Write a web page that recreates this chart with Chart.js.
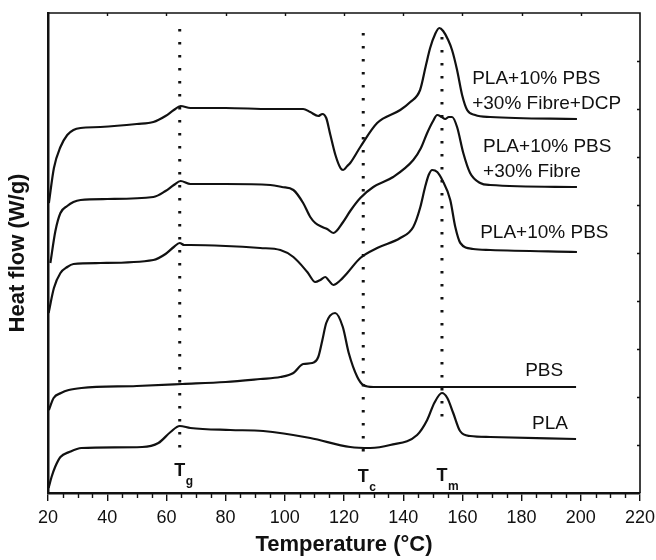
<!DOCTYPE html>
<html>
<head>
<meta charset="utf-8">
<script src="https://cdn.jsdelivr.net/npm/chart.js@4.4.1/dist/chart.umd.min.js"></script>
<style>
  html, body { margin: 0; padding: 0; background: #fff; }
  #dsc { display: block; }
</style>
</head>
<body>
<canvas id="dsc" width="656" height="560"></canvas>
<script>
// DSC heating curves, heat flow in arbitrary (offset) units
const dcpTemp = [20.3, 22.0, 24.2, 26.5, 28.6, 31, 37.7, 50, 55.6, 59.7, 62.5, 64.8, 68.1, 80, 95.1, 106.2, 108.6, 111.3, 112.7, 114, 115.4, 117.1, 118.8, 119.7, 121.1, 122.1, 125.5, 131.2, 139, 142.4, 145.7, 147.7, 149.1, 150.8, 152.2, 153.5, 155.2, 156.5, 158.2, 159.9, 161.6, 164.3, 169.4, 198.7];
const dcpFlow = [290, 325, 346, 358, 363, 365, 366, 369, 371, 377, 383, 387, 385, 385, 384, 384, 381, 377, 379, 375, 358, 338, 325, 323, 327, 330, 346, 370, 383, 391, 403, 428, 445, 459, 465, 462, 453, 443, 423, 398, 383, 378, 376, 374];

const fibreTemp = [20.8, 22.5, 24.2, 26.5, 28.6, 31, 40, 55.6, 59.7, 62.5, 64.8, 68.1, 80, 95.1, 99, 102.9, 106.2, 108.6, 110.3, 112.7, 114.3, 116.4, 119.7, 122.1, 125.5, 129.9, 136.6, 143.4, 146, 148.1, 150.1, 151.5, 153, 154.2, 155.4, 156.5, 158.2, 160.3, 162.6, 166, 169.4, 198.7];
const fibreFlow = [230, 262, 280, 287, 291, 293, 294, 296, 302, 308, 312, 309, 309, 308, 306, 303, 290, 276, 270, 266, 264, 260, 271, 282, 295, 306, 316, 333, 345, 360, 372, 378, 376, 374, 376, 376, 366, 340, 320, 310, 308, 306];

const blendTemp = [20.2, 22.0, 24.2, 26.5, 28.6, 37.7, 55.6, 59.7, 62.5, 64.5, 66, 68.1, 80, 91.7, 98.5, 102.9, 107.6, 110.3, 112, 113.7, 115, 116.4, 118.5, 121.1, 125.5, 131.2, 139, 143.4, 145.7, 147.4, 148.6, 149.8, 151.5, 153.2, 155.9, 157.6, 159.3, 163.6, 169.4, 198.7];
const blendFlow = [180, 205, 220, 226, 229, 230, 233, 239, 246, 250, 248, 248, 247, 245, 243, 236, 221, 211, 213, 216, 212, 208, 212, 220, 235, 245, 255, 266, 285, 306, 318, 323, 321, 313, 293, 266, 250, 244, 243, 241];

const pbsTemp = [20.3, 21.9, 24.4, 27, 31.3, 50, 65.4, 80, 91.7, 98.5, 102.9, 106.2, 109.3, 111.3, 112.7, 114, 117, 119.6, 121.6, 124.5, 126.5, 129.9, 150, 198.4];
const pbsFlow = [83, 95, 100, 103, 105, 107, 109, 111, 114, 116, 120, 129, 130, 136, 153, 170, 180, 166, 140, 116, 108, 106, 106, 106];

const plaTemp = [20.2, 21.2, 22.4, 24.2, 27.2, 31.3, 51.8, 57.3, 61.4, 64.5, 68.1, 81.6, 92.7, 108.6, 122.1, 128.9, 135.6, 144.7, 148.1, 150.5, 153.1, 154.9, 156.9, 159.2, 162.6, 169.4, 198.4];
const plaFlow = [5, 16, 26, 36, 41, 45, 46, 50, 61, 67, 65, 63, 62, 55, 46, 45, 48, 58, 73, 90, 100, 95, 80, 62, 57, 56, 54];

// Tg, Tc, Tm marker lines
const markerNames = ['g', 'c', 'm'];
const markerTemps = [64.5, 126.5, 153.1];
const markerTop = [464, 460, 456];
const markerBottom = [35, 33, 68];

const xTicks = [20, 40, 60, 80, 100, 120, 140, 160, 180, 200, 220];

const FONT = '"Liberation Sans", Arial, Helvetica, sans-serif';
const INK = '#111';

function pts(xs, ys) {
  return xs.map((x, i) => ({ x: x, y: ys[i] }));
}

function curve(label, xs, ys) {
  return {
    label: label,
    data: pts(xs, ys),
    borderColor: INK,
    borderWidth: 2.2,
    pointRadius: 0,
    fill: false,
    cubicInterpolationMode: 'monotone'
  };
}

const datasets = [
  curve('PLA+10% PBS +30% Fibre+DCP', dcpTemp, dcpFlow),
  curve('PLA+10% PBS +30% Fibre', fibreTemp, fibreFlow),
  curve('PLA+10% PBS', blendTemp, blendFlow),
  curve('PBS', pbsTemp, pbsFlow),
  curve('PLA', plaTemp, plaFlow)
];

markerTemps.forEach((t, i) => {
  datasets.push({
    label: 'T' + markerNames[i],
    data: [{ x: t, y: markerTop[i] }, { x: t, y: markerBottom[i] }],
    borderColor: INK,
    borderWidth: 3,
    borderDash: [2.5, 10.5],
    borderCapStyle: 'butt',
    pointRadius: 0,
    fill: false
  });
});

// curve names, anchored in data units (left edge, middle of first line)
const curveLabels = [
  { lines: ['PLA+10% PBS', '+30% Fibre+DCP'], x: 163.3, y: 414 },
  { lines: ['PLA+10% PBS', '+30% Fibre'], x: 167, y: 346 },
  { lines: ['PLA+10% PBS'], x: 166, y: 260 },
  { lines: ['PBS'], x: 181.2, y: 122 },
  { lines: ['PLA'], x: 183.5, y: 69 }
];

const decor = {
  id: 'decor',
  afterDraw(chart) {
    const { ctx, chartArea: a, scales: { x, y } } = chart;
    ctx.save();
    ctx.strokeStyle = INK;

    // top and right frame
    ctx.lineWidth = 1.6;
    ctx.beginPath();
    ctx.moveTo(a.left, a.top);
    ctx.lineTo(a.right, a.top);
    ctx.lineTo(a.right, a.bottom);
    ctx.stroke();

    // minor ticks on the bottom axis
    ctx.lineWidth = 1.4;
    ctx.beginPath();
    for (let t = 25; t < 220; t += 5) {
      if (t % 20 === 0) continue;
      const px = Math.round(x.getPixelForValue(t)) + 0.5;
      ctx.moveTo(px, a.bottom);
      ctx.lineTo(px, a.bottom + 5);
    }
    // small ticks on the top axis
    for (let t = 40; t < 220; t += 20) {
      const px = Math.round(x.getPixelForValue(t)) + 0.5;
      ctx.moveTo(px, a.top);
      ctx.lineTo(px, a.top + 3);
    }
    // small ticks on the right axis
    for (let v = 48; v < 480; v += 48) {
      const py = Math.round(y.getPixelForValue(v)) + 0.5;
      ctx.moveTo(a.right, py);
      ctx.lineTo(a.right - 3, py);
    }
    ctx.stroke();

    // curve names
    ctx.fillStyle = INK;
    ctx.font = '19px ' + FONT;
    ctx.textAlign = 'left';
    ctx.textBaseline = 'middle';
    curveLabels.forEach(l => {
      const px = x.getPixelForValue(l.x);
      const py = y.getPixelForValue(l.y);
      l.lines.forEach((s, k) => ctx.fillText(s, px, py + k * 25));
    });

    // T_g, T_c, T_m
    const tOffsets = [0, 6, 5];
    markerTemps.forEach((t, i) => {
      const px = x.getPixelForValue(t);
      const py = a.bottom - 22 + tOffsets[i];
      ctx.font = 'bold 18px ' + FONT;
      ctx.textAlign = 'center';
      ctx.textBaseline = 'middle';
      ctx.fillText('T', px, py);
      ctx.font = 'bold 12px ' + FONT;
      ctx.textAlign = 'left';
      ctx.fillText(markerNames[i], px + 6, py + 11);
    });
    ctx.restore();
  }
};

new Chart(document.getElementById('dsc'), {
  type: 'line',
  data: { datasets: datasets },
  options: {
    responsive: false,
    animation: false,
    devicePixelRatio: 1,
    layout: { padding: { top: 13, right: 16, left: 0, bottom: 0 } },
    plugins: {
      legend: { display: false },
      tooltip: { enabled: false }
    },
    scales: {
      x: {
        type: 'linear',
        min: 20,
        max: 220,
        afterBuildTicks: s => { s.ticks = xTicks.map(v => ({ value: v })); },
        afterFit: s => {
          s.height = 67;
          s.paddingLeft = 0;
          s.paddingRight = 0;
        },
        ticks: {
          color: INK,
          padding: 6,
          maxRotation: 0,
          font: { family: FONT, size: 18 }
        },
        grid: {
          drawOnChartArea: false,
          drawTicks: true,
          tickLength: 8,
          color: INK,
          lineWidth: 1.4
        },
        border: { display: true, color: INK, width: 2.5 },
        title: {
          display: true,
          text: 'Temperature (°C)',
          color: INK,
          padding: { top: 3, bottom: 2 },
          font: { family: FONT, size: 22, weight: 'bold' }
        }
      },
      y: {
        type: 'linear',
        min: 0,
        max: 480,
        ticks: { display: false },
        grid: { display: false },
        border: { display: true, color: INK, width: 2.5 },
        afterFit: s => { s.width = 48; },
        title: {
          display: true,
          text: 'Heat flow (W/g)',
          color: INK,
          padding: { top: 5, bottom: 0 },
          font: { family: FONT, size: 22, weight: 'bold' }
        }
      }
    }
  },
  plugins: [decor]
});
</script>
</body>
</html>
